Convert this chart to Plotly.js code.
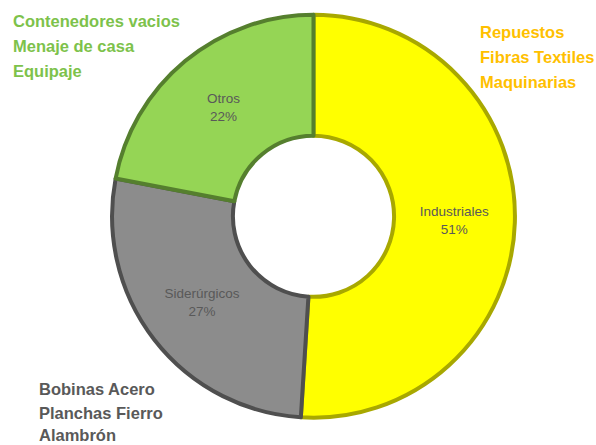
<!DOCTYPE html>
<html><head><meta charset="utf-8">
<script src="https://cdn.plot.ly/plotly-3.0.1.min.js"></script>
<style>html,body{margin:0;padding:0;background:#fff}#chart{width:596px;height:445px}</style>
</head><body><div id="chart"></div>
<script>
const categories = ["Industriales", "Siderúrgicos", "Otros"];
const values = [51, 27, 22];
const sliceColors = ["#FFFF00", "#8C8C8C", "#95D555"];
const edgeColors = ["#A8A800", "#4F4F4F", "#557F2E"];
const notesGreen = ["Contenedores vacios", "Menaje de casa", "Equipaje"];
const notesYellow = ["Repuestos", "Fibras Textiles", "Maquinarias"];
const notesGray = ["Bobinas Acero", "Planchas Fierro", "Alambrón"];

const trace = {
  type: "pie",
  labels: categories,
  values: values,
  sort: false,
  direction: "clockwise",
  rotation: 0,
  hole: 0.4,
  domain: {x: [0.188, 0.864], y: [0.06, 0.968]},
  marker: {colors: sliceColors, line: {color: edgeColors, width: 4}},
  textposition: "inside",
  insidetextorientation: "horizontal",
  texttemplate: "%{label}<br>%{percent:.0%}",
  textfont: {family: "Liberation Sans, Arial", size: 13.5, color: "#595959"},
  showlegend: false,
  hoverinfo: "none"
};

const annotations = [];
function addNotes(lines, x, yCenters, color) {
  lines.forEach((t, i) => {
    annotations.push({
      text: t, x: x / 596, y: 1 - (yCenters[i] + 1) / 445, xref: "paper", yref: "paper",
      xanchor: "left", yanchor: "middle", align: "left", showarrow: false,
      font: {family: "Liberation Sans, Arial", size: 16.5, color: color, weight: "bold"}
    });
  });
}
addNotes(notesGreen, 11, [20, 45, 70], "#7DC24B");
addNotes(notesYellow, 478, [31.5, 56.5, 80.5], "#FFC000");
addNotes(notesGray, 37, [388, 411.5, 434], "#595959");

const layout = {
  width: 596, height: 445,
  margin: {l: 0, r: 0, t: 0, b: 0},
  paper_bgcolor: "#ffffff",
  annotations: annotations
};
Plotly.newPlot("chart", [trace], layout, {displayModeBar: false, staticPlot: true});
</script></body></html>
